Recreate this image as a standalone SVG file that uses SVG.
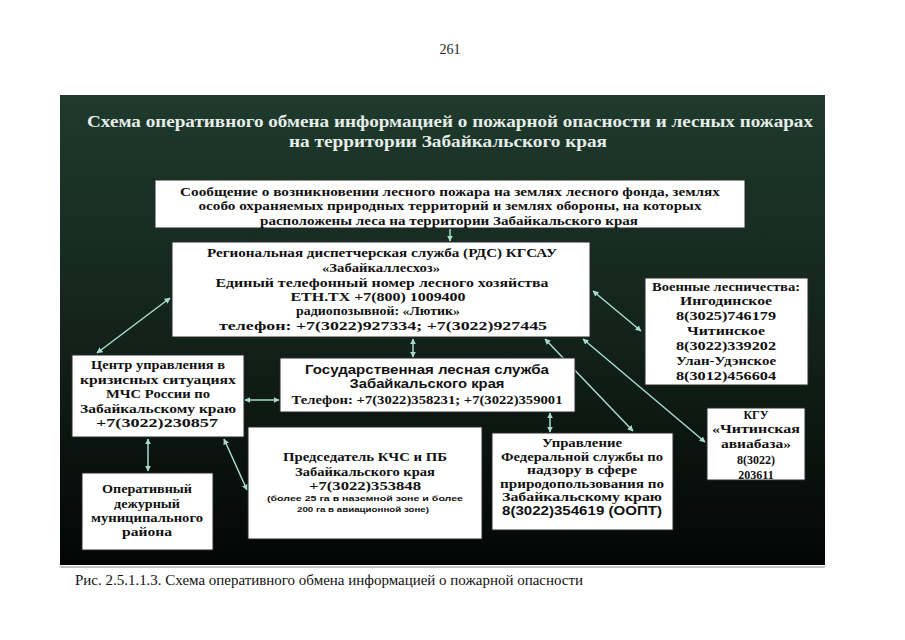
<svg xmlns="http://www.w3.org/2000/svg" width="905" height="640" viewBox="0 0 905 640">
<defs>
<linearGradient id="bg" x1="0" y1="0" x2="0" y2="1">
<stop offset="0" stop-color="#1f3a2d"/>
<stop offset="0.5" stop-color="#13231b"/>
<stop offset="1" stop-color="#030504"/>
</linearGradient>
<marker id="ah" viewBox="0 0 10 10" refX="9" refY="5" markerWidth="6" markerHeight="6" orient="auto-start-reverse" markerUnits="userSpaceOnUse">
<path d="M0,0 L10,5 L0,10 z" fill="#a6dccb"/>
</marker>
</defs>
<style>
.box{fill:#ffffff;stroke:#2a2a2a;stroke-width:1}
.t{font-family:"Liberation Serif","Times New Roman",serif;font-weight:bold;font-size:12px;fill:#111;text-anchor:middle}
.s{font-family:"Liberation Sans",Arial,sans-serif;font-weight:bold;font-size:13px;fill:#111;text-anchor:middle}
.ss{font-family:"Liberation Sans",Arial,sans-serif;font-weight:bold;font-size:8px;fill:#111;text-anchor:middle}
.title{font-family:"Liberation Serif","Times New Roman",serif;font-weight:bold;font-size:16px;fill:#e6ece8;text-anchor:middle}
.c{stroke:#a6dccb;stroke-width:1.5;fill:none;marker-end:url(#ah)}
.d{marker-start:url(#ah)}
</style>
<rect x="0" y="0" width="905" height="640" fill="#ffffff"/>
<text x="450" y="54" font-family="Liberation Serif, serif" font-size="14" fill="#222" text-anchor="middle">261</text>
<rect x="60" y="95" width="765" height="470" fill="url(#bg)"/>
<line x1="60" y1="567" x2="825" y2="567" stroke="#888" stroke-width="1"/>
<g id="title">
<text class="title" x="450" y="127" textLength="726" lengthAdjust="spacingAndGlyphs">Схема оперативного обмена информацией о пожарной опасности и лесных пожарах</text>
<text class="title" x="448" y="147" textLength="318" lengthAdjust="spacingAndGlyphs">на территории Забайкальского края</text>
</g>
<g id="connectors">
<line class="c" x1="450" y1="229" x2="450" y2="241"/>
<line class="c d" x1="170" y1="298" x2="97" y2="353"/>
<line class="c d" x1="593" y1="291" x2="641" y2="331"/>
<line class="c d" x1="545" y1="339" x2="633" y2="431"/>
<line class="c d" x1="583" y1="339" x2="705" y2="442"/>
<line class="c d" x1="245" y1="400" x2="279" y2="400"/>
<line class="c d" x1="148" y1="439" x2="148" y2="471"/>
<line class="c d" x1="224" y1="439" x2="247" y2="490"/>
<line class="c d" x1="413" y1="339" x2="413" y2="357"/>
<line class="c d" x1="550" y1="413" x2="550" y2="432"/>
</g>
<g id="n-message">
<rect class="box" x="155" y="180" width="590" height="48"/>
<text class="t" x="450" y="196" textLength="540" lengthAdjust="spacingAndGlyphs">Сообщение о возникновении лесного пожара на землях лесного фонда,  землях</text>
<text class="t" x="450" y="210" textLength="503" lengthAdjust="spacingAndGlyphs">особо охраняемых  природных территорий и землях обороны,  на которых</text>
<text class="t" x="449" y="225" textLength="378" lengthAdjust="spacingAndGlyphs">расположены леса на территории  Забайкальского края</text>
</g>
<g id="n-rds">
<rect class="box" x="172" y="242" width="418" height="95"/>
<text class="t" x="382" y="257" textLength="350" lengthAdjust="spacingAndGlyphs">Региональная диспетчерская служба (РДС) КГСАУ</text>
<text class="t" x="381" y="272" textLength="118" lengthAdjust="spacingAndGlyphs">«Забайкаллесхоз»</text>
<text class="t" x="382" y="287" textLength="333" lengthAdjust="spacingAndGlyphs">Единый телефонный номер лесного хозяйства</text>
<text class="t" x="378" y="301" textLength="175" lengthAdjust="spacingAndGlyphs">ЕТН.ТХ +7(800) 1009400</text>
<text class="t" x="378" y="315" textLength="164" lengthAdjust="spacingAndGlyphs">радиопозывной: «Лютик»</text>
<text class="t" x="383" y="330" textLength="328" lengthAdjust="spacingAndGlyphs">телефон: +7(3022)927334; +7(3022)927445</text>
</g>
<g id="n-mchs">
<rect class="box" x="72" y="355" width="172" height="82"/>
<text class="t" x="158" y="369" textLength="134" lengthAdjust="spacingAndGlyphs">Центр управления в</text>
<text class="t" x="158" y="384" textLength="156" lengthAdjust="spacingAndGlyphs">кризисных ситуациях</text>
<text class="t" x="158" y="398" textLength="104" lengthAdjust="spacingAndGlyphs">МЧС России по</text>
<text class="t" x="158" y="413" textLength="156" lengthAdjust="spacingAndGlyphs">Забайкальскому краю</text>
<text class="t" x="157" y="427" textLength="122" lengthAdjust="spacingAndGlyphs">+7(3022)230857</text>
</g>
<g id="n-gls">
<rect class="box" x="280" y="358" width="295" height="54"/>
<text class="s" x="427" y="374" textLength="244" lengthAdjust="spacingAndGlyphs">Государственная лесная служба</text>
<text class="s" x="427" y="388" textLength="155" lengthAdjust="spacingAndGlyphs">Забайкальского края</text>
<text class="t" x="427" y="404" textLength="271" lengthAdjust="spacingAndGlyphs">Телефон: +7(3022)358231; +7(3022)359001</text>
</g>
<g id="n-military">
<rect class="box" x="645" y="278" width="163" height="107"/>
<text class="t" x="726" y="291" textLength="148" lengthAdjust="spacingAndGlyphs">Военные лесничества:</text>
<text class="t" x="726" y="305" textLength="92" lengthAdjust="spacingAndGlyphs">Ингодинское</text>
<text class="t" x="726" y="320" textLength="100" lengthAdjust="spacingAndGlyphs">8(3025)746179</text>
<text class="t" x="726" y="335" textLength="78" lengthAdjust="spacingAndGlyphs">Читинское</text>
<text class="t" x="726" y="350" textLength="100" lengthAdjust="spacingAndGlyphs">8(3022)339202</text>
<text class="t" x="726" y="365" textLength="100" lengthAdjust="spacingAndGlyphs">Улан-Удэнское</text>
<text class="t" x="726" y="380" textLength="100" lengthAdjust="spacingAndGlyphs">8(3012)456604</text>
</g>
<g id="n-kgu">
<rect class="box" x="707" y="408" width="98" height="72"/>
<text class="t" x="756" y="419">КГУ</text>
<text class="t" x="756" y="433" textLength="88" lengthAdjust="spacingAndGlyphs">«Читинская</text>
<text class="t" x="756" y="448" textLength="70" lengthAdjust="spacingAndGlyphs">авиабаза»</text>
<text class="t" x="756" y="464">8(3022)</text>
<text class="t" x="756" y="479">203611</text>
</g>
<g id="n-duty">
<rect class="box" x="82" y="473" width="131" height="77"/>
<text class="t" x="147" y="493" textLength="90" lengthAdjust="spacingAndGlyphs">Оперативный</text>
<text class="t" x="147" y="508" textLength="66" lengthAdjust="spacingAndGlyphs">дежурный</text>
<text class="t" x="147" y="522" textLength="112" lengthAdjust="spacingAndGlyphs">муниципального</text>
<text class="t" x="147" y="536" textLength="50" lengthAdjust="spacingAndGlyphs">района</text>
</g>
<g id="n-kchs">
<rect class="box" x="248" y="427" width="234" height="112"/>
<text class="t" x="365" y="461" textLength="164" lengthAdjust="spacingAndGlyphs">Председатель КЧС и ПБ</text>
<text class="t" x="365" y="476" textLength="140" lengthAdjust="spacingAndGlyphs">Забайкальского края</text>
<text class="t" x="365" y="490" textLength="112" lengthAdjust="spacingAndGlyphs">+7(3022)353848</text>
<text class="ss" x="365" y="501" textLength="196" lengthAdjust="spacingAndGlyphs">(более 25 га в наземной зоне и более</text>
<text class="ss" x="363" y="512" textLength="132" lengthAdjust="spacingAndGlyphs">200 га в авиационной зоне)</text>
</g>
<g id="n-rpn">
<rect class="box" x="492" y="433" width="181" height="97"/>
<text class="t" x="582" y="447" font-size="11.5" textLength="80" lengthAdjust="spacingAndGlyphs">Управление</text>
<text class="t" x="582" y="460.5" font-size="11.5" textLength="162" lengthAdjust="spacingAndGlyphs">Федеральной службы по</text>
<text class="t" x="582" y="474" font-size="11.5" textLength="110" lengthAdjust="spacingAndGlyphs">надзору в сфере</text>
<text class="t" x="582" y="487.5" font-size="11.5" textLength="164" lengthAdjust="spacingAndGlyphs">природопользования по</text>
<text class="t" x="582" y="501" font-size="11.5" textLength="160" lengthAdjust="spacingAndGlyphs">Забайкальскому краю</text>
<text class="s" x="582" y="514.5" font-size="10.5" textLength="160" lengthAdjust="spacingAndGlyphs">8(3022)354619 (ООПТ)</text>
</g>
<text x="75" y="585" font-family="Liberation Serif, Times New Roman, serif" font-size="15" fill="#111" textLength="508" lengthAdjust="spacingAndGlyphs">Рис. 2.5.1.1.3. Схема оперативного обмена информацией о пожарной опасности</text>
</svg>
